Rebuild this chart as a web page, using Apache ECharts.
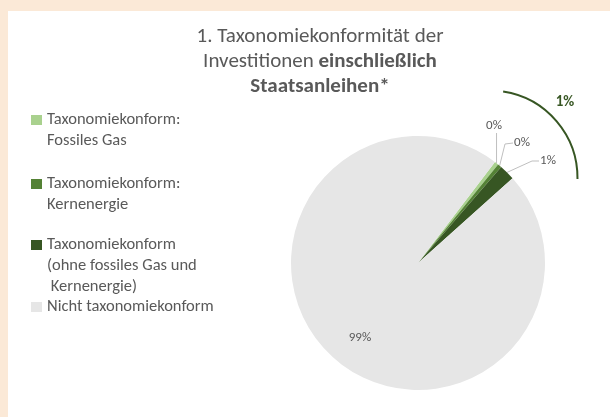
<!DOCTYPE html>
<html>
<head>
<meta charset="utf-8">
<script src="https://cdn.jsdelivr.net/npm/echarts@6/dist/echarts.min.js"></script>
<style>
  html, body { margin: 0; padding: 0; background: #fbe9d7; }
  #chart { position: absolute; left: 8px; top: 11px; width: 602px; height: 406px; background: #ffffff; }
</style>
</head>
<body>
<div id="chart"></div>
<script>
// categories (legend entries) and shares in percent
const categories = [
  'Taxonomiekonform:\nFossiles Gas',
  'Taxonomiekonform:\nKernenergie',
  'Taxonomiekonform\n(ohne fossiles Gas und\n Kernenergie)',
  'Nicht taxonomiekonform'
];
const shares = [0.5, 0.5, 2.0, 97.0];
const shareLabels = ['0%', '0%', '1%', '99%'];
const colors = ['#a9d18e', '#548235', '#375623', '#e6e6e6'];
const totalAlignedLabel = '1%';

const FONT = 'Carlito, Calibri, Lato, sans-serif';
const GREY = '#595959';
const CENTER = [410, 252];
const RADIUS = 127;
const START = 52.7;

const chart = echarts.init(document.getElementById('chart'));

// legend text: pad with blank lines so the marker sits on the first line
const legendLineY = [109, 173, 234, 296];
const legends = categories.map((name, i) => {
  const n = name.split('\n').length;
  return {
    data: [name],
    orient: 'vertical',
    left: 23,
    top: legendLineY[i] - 10.5 * (2 * n - 1),
    padding: 0,
    itemWidth: 11,
    itemHeight: 10,
    itemGap: 0,
    icon: 'rect',
    selectedMode: false,
    formatter: (t) => '\n'.repeat(n - 1) + t,
    textStyle: { fontFamily: FONT, fontSize: 16.5, color: GREY, lineHeight: 21 }
  };
});

// where the data labels sit (relative to the chart box)
const labelPos = [
  { x: 486, y: 115 },
  { x: 514, y: 132 },
  { x: 540, y: 150 },
  { x: 352, y: 327 }
];

// point on the rim in the middle of slice i
function rimPoint(i) {
  const total = shares.reduce((a, b) => a + b, 0);
  let before = 0;
  for (let k = 0; k < i; k++) before += shares[k];
  const mid = (START - (before + shares[i] / 2) / total * 360) * Math.PI / 180;
  return [CENTER[0] + RADIUS * Math.cos(mid), CENTER[1] - RADIUS * Math.sin(mid)];
}

function leader(i) {
  const s = rimPoint(i);
  const l = labelPos[i];
  if (i === 0) return [s, [s[0], l.y + 14], [s[0], l.y + 7]];
  if (i === 1) return [s, [l.x - 17, l.y + 1], [l.x - 9, l.y]];
  return [s, [l.x - 16, l.y], [l.x - 9, l.y]];
}

chart.setOption({
  animation: false,
  color: colors,
  title: {
    text: '1. Taxonomiekonformität der\nInvestitionen {b|einschließlich}\n{b|Staatsanleihen*}',
    left: 312,
    top: 13,
    padding: 0,
    textAlign: 'center',
    textStyle: {
      fontFamily: FONT, fontSize: 21, fontWeight: 'normal', color: GREY, lineHeight: 25,
      rich: { b: { fontFamily: FONT, fontSize: 21, fontWeight: 'bold', color: GREY, lineHeight: 25 } }
    }
  },
  legend: legends,
  series: [{
    type: 'pie',
    center: CENTER,
    radius: RADIUS,
    startAngle: START,
    clockwise: true,
    itemStyle: { borderWidth: 0 },
    emphasis: { disabled: true },
    label: {
      show: true,
      position: 'outside',
      fontFamily: FONT,
      fontSize: 13,
      color: GREY,
      formatter: (p) => shareLabels[p.dataIndex]
    },
    labelLine: { show: true, lineStyle: { color: '#bfbfbf', width: 1 } },
    labelLayout: (p) => {
      const i = p.dataIndex;
      const out = { x: labelPos[i].x, y: labelPos[i].y, align: 'center', verticalAlign: 'middle' };
      if (i < 3) out.labelLinePoints = leader(i);
      return out;
    },
    data: categories.map((name, i) => ({
      name: name,
      value: shares[i],
      labelLine: i === 3 ? { show: false } : undefined
    }))
  }],
  graphic: [
    {
      type: 'arc',
      shape: { cx: 482, cy: 167, r: 87.5, startAngle: -1.42, endAngle: 0.012, clockwise: true },
      style: { stroke: '#375623', lineWidth: 2, fill: null }
    },
    {
      type: 'text',
      x: 557,
      y: 91,
      style: {
        text: totalAlignedLabel, fontFamily: FONT, fontSize: 15, fontWeight: 'bold',
        fill: '#375623', align: 'center', verticalAlign: 'middle'
      }
    }
  ]
});
</script>
</body>
</html>
